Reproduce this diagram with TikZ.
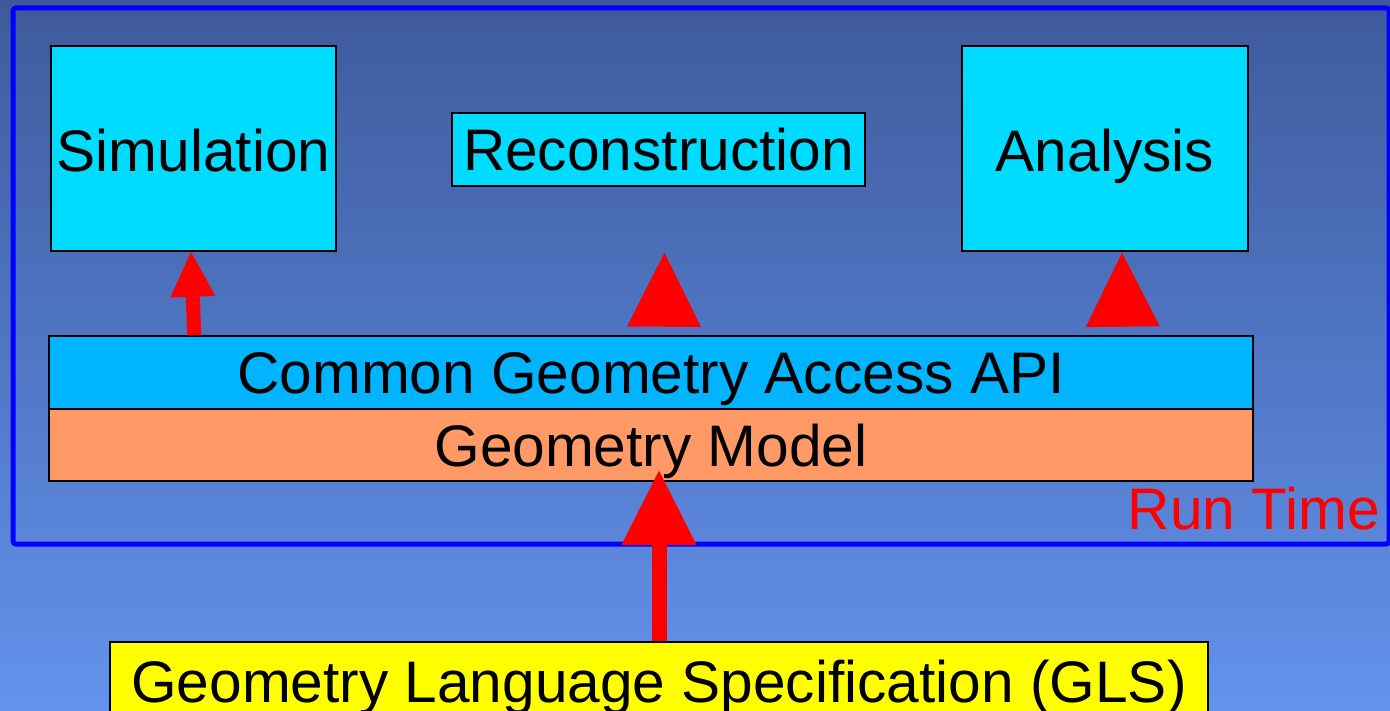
\documentclass[tikz,border=0pt]{standalone}
\usepackage{fontspec}
\setmainfont{Liberation Sans}
\usetikzlibrary{arrows.meta,calc}
\definecolor{bgtop}{RGB}{62,90,156}
\definecolor{bgbot}{RGB}{99,147,237}
\definecolor{boxcyan}{RGB}{0,220,255}
\definecolor{apiblue}{RGB}{0,180,255}
\definecolor{gmorange}{RGB}{255,153,102}
\definecolor{glsyellow}{RGB}{255,255,0}
\definecolor{arrred}{RGB}{255,0,0}
\definecolor{frameblue}{RGB}{0,0,255}
\begin{document}
\begin{tikzpicture}[x=1pt,y=-1pt,
  bigfont/.style={font=\fontsize{58.6}{61}\selectfont},
  box/.style={draw=black,line width=1.5pt,inner sep=0pt,bigfont,text height=42pt,text depth=0pt},
  thinarrow/.style={draw=arrred,line width=14pt,-{Triangle[width=45pt,length=45pt,line width=0pt]}},
  fatarrow/.style={draw=arrred,line width=15pt,-{Triangle[width=75pt,length=74pt,line width=0pt]}},
  headonly/.style={draw=arrred,line width=0.1pt,-{Triangle[width=74pt,length=74pt,line width=0pt]}}
]
\clip (0,0) rectangle (1390,711);
\shade[top color=bgtop,bottom color=bgbot] (0,0) rectangle (1390,711);
\draw[frameblue,line width=5pt,rounded corners=3pt] (13,8) rectangle (1389,544);

\node[box,fill=boxcyan,minimum width=285pt,minimum height=205pt,text height=46pt] (sim) at (193.5,148.5) {Simulation};
\node[box,fill=boxcyan,minimum width=413pt,minimum height=73pt] (rec) at (658.5,149.5) {Reconstruction};
\node[box,fill=boxcyan,minimum width=286pt,minimum height=205pt,text height=46pt] (ana) at (1105,148.5) {Analysis};
\node[box,fill=apiblue,minimum width=1204pt,minimum height=73pt] (api) at (651,372.5) {Common Geometry Access API};
\node[box,fill=gmorange,minimum width=1204pt,minimum height=72pt] (gm) at (651,445) {Geometry Model};
\node[box,fill=glsyellow,minimum width=1098pt,minimum height=79pt] (gls) at (659,681.5) {Geometry Language Specification (GLS)};
\node[bigfont,text=arrred,anchor=base east,inner sep=0pt] (rt) at (1380,529) {Run Time};

\coordinate (gmtip) at ($(gm.south)+(8,-11)$);
\draw[thinarrow] ($(api.north west)+(146,0)$) -- ($(sim.south)+(-2.5,0)$);
\draw[headonly] ($(api.north)+(13,-10)$) -- ($(rec.south)+(6,66)$);
\draw[headonly] ($(api.north east)+(-131,-10)$) -- ($(ana.south)+(17,1)$);
\draw[fatarrow] (gls.north -| gmtip) -- (gmtip);
\end{tikzpicture}
\end{document}
